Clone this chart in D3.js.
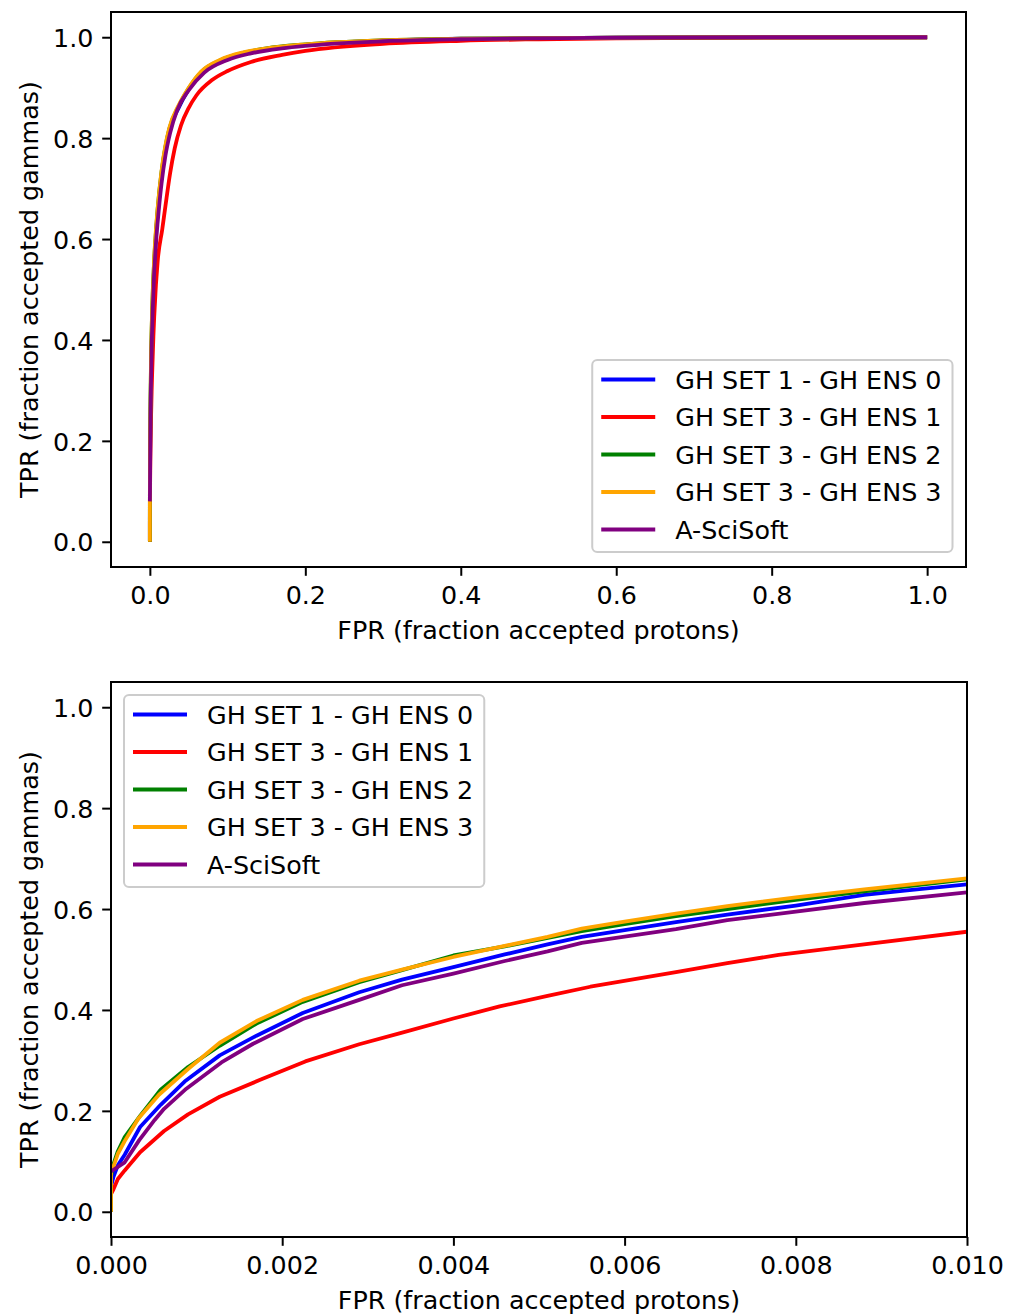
<!DOCTYPE html>
<html>
<head>
<meta charset="utf-8">
<script src="https://cdn.jsdelivr.net/npm/d3@7"></script>
<style>
  html, body { margin: 0; padding: 0; background: #fff; }
  svg { display: block; }
  text { font-family: "DejaVu Sans", sans-serif; }
</style>
</head>
<body>
<svg id="chart" width="1016" height="1314"></svg>
<script>
// ---- Data (FPR, TPR) ----
const seriesNames = ["GH SET 1 - GH ENS 0", "GH SET 3 - GH ENS 1", "GH SET 3 - GH ENS 2", "GH SET 3 - GH ENS 3", "A-SciSoft"];
const seriesColors = ["#0000ff", "#ff0000", "#008000", "#ffa500", "#800080"];

const ens0 = [[0,0],[0,0.05],[0.00003,0.07],[0.00008,0.092],[0.00016,0.113],[0.00034,0.168],[0.00058,0.212],[0.00086,0.258],[0.00127,0.31],[0.0017,0.349],[0.00224,0.394],[0.0029,0.435],[0.0034,0.46],[0.004,0.485],[0.0046,0.51],[0.0051,0.53],[0.0055,0.545],[0.006,0.558],[0.0066,0.574],[0.0072,0.589],[0.008,0.607],[0.0088,0.628],[0.0093,0.637],[0.01,0.649],
  [0.015,0.725],[0.02,0.775],[0.025,0.815],[0.037,0.86],[0.05,0.897],[0.066,0.93],[0.09,0.953],[0.12,0.968],[0.15,0.977],[0.2,0.985],[0.3,0.993],[0.4,0.997],[0.6,0.999],[0.8,1.0],[1.0,1.0]];

const ens1 = [[0,0],[0,0.035],[0.00003,0.045],[0.00008,0.065],[0.00016,0.082],[0.00034,0.118],[0.00062,0.16],[0.0009,0.193],[0.00127,0.228],[0.00175,0.262],[0.00227,0.298],[0.0029,0.332],[0.00338,0.354],[0.004,0.383],[0.00454,0.407],[0.0051,0.428],[0.0056,0.446],[0.0066,0.475],[0.0072,0.493],[0.0078,0.509],[0.00875,0.529],[0.01,0.555],
  [0.016,0.62],[0.02,0.665],[0.026,0.73],[0.032,0.78],[0.04,0.825],[0.05,0.86],[0.06,0.885],[0.08,0.915],[0.1,0.933],[0.13,0.951],[0.17,0.965],[0.2,0.973],[0.3,0.987],[0.4,0.993],[0.5,0.996],[0.6,0.998],[0.8,0.9995],[1.0,1.0]];

const ens2 = [[0,0],[0,0.07],[0.00003,0.095],[0.00008,0.12],[0.00016,0.148],[0.00034,0.19],[0.00058,0.242],[0.0009,0.287],[0.00127,0.329],[0.0017,0.373],[0.00224,0.416],[0.0029,0.455],[0.0034,0.479],[0.004,0.508],[0.0046,0.526],[0.0055,0.556],[0.006,0.57],[0.0066,0.586],[0.0072,0.6],[0.008,0.618],[0.0088,0.635],[0.01,0.659],
  [0.015,0.733],[0.02,0.783],[0.025,0.818],[0.037,0.863],[0.05,0.899],[0.066,0.931],[0.09,0.954],[0.12,0.969],[0.15,0.978],[0.2,0.986],[0.3,0.994],[0.4,0.997],[0.6,0.999],[0.8,1.0],[1.0,1.0]];

const ens3 = [[0,0],[0,0.08],[0.00003,0.09],[0.00008,0.115],[0.00016,0.14],[0.00032,0.185],[0.00056,0.232],[0.0009,0.283],[0.00127,0.335],[0.0017,0.378],[0.00224,0.42],[0.0029,0.458],[0.0034,0.48],[0.004,0.505],[0.0046,0.527],[0.0051,0.545],[0.0055,0.561],[0.006,0.575],[0.0066,0.591],[0.0072,0.606],[0.008,0.623],[0.0088,0.639],[0.01,0.661],
  [0.015,0.735],[0.02,0.785],[0.025,0.82],[0.037,0.865],[0.05,0.9],[0.066,0.932],[0.09,0.955],[0.12,0.97],[0.15,0.978],[0.2,0.986],[0.3,0.994],[0.4,0.997],[0.6,0.999],[0.8,1.0],[1.0,1.0]];

const sciSoft = [[0,0.08],[0.00016,0.098],[0.00033,0.142],[0.00051,0.182],[0.00062,0.204],[0.00088,0.244],[0.00129,0.296],[0.00166,0.333],[0.00224,0.382],[0.0029,0.42],[0.0034,0.449],[0.004,0.472],[0.0046,0.497],[0.0051,0.516],[0.0055,0.533],[0.0066,0.56],[0.0072,0.578],[0.008,0.595],[0.0088,0.612],[0.01,0.633],
  [0.015,0.71],[0.02,0.765],[0.026,0.81],[0.035,0.855],[0.05,0.895],[0.07,0.93],[0.1,0.955],[0.13,0.968],[0.17,0.978],[0.2,0.983],[0.3,0.992],[0.4,0.996],[0.6,0.999],[0.8,1.0],[1.0,1.0]];

const allSeries = [ens0, ens1, ens2, ens3, sciSoft];

const yTicks = [0.0, 0.2, 0.4, 0.6, 0.8, 1.0];
const xTicksTop = [0.0, 0.2, 0.4, 0.6, 0.8, 1.0];
const xTicksBottom = [0.000, 0.002, 0.004, 0.006, 0.008, 0.010];
const xLabel = "FPR (fraction accepted protons)";
const yLabel = "TPR (fraction accepted gammas)";

// ---- Drawing ----
const svg = d3.select("#chart");
const FS = 25.4;        // font size px
const LW = 3.8;         // line width
const SPINE = 2;
const TICK = 8.8, PAD = 8.8;

function panel(cfg, idx) {
  const {left, right, top, bottom, xDomain, xTicks, xFmt, legendPos, curve} = cfg;
  const x = d3.scaleLinear().domain(xDomain).range([left, right]);
  const y = d3.scaleLinear().domain([-0.05, 1.05]).range([bottom, top]);
  const g = svg.append("g");

  const clipId = "clip" + idx;
  svg.append("clipPath").attr("id", clipId)
    .append("rect").attr("x", left).attr("y", top).attr("width", right - left).attr("height", bottom - top);

  const line = d3.line().curve(curve).x(d => x(d[0])).y(d => y(d[1]));
  const lines = g.append("g").attr("clip-path", `url(#${clipId})`);
  allSeries.forEach((s, i) => {
    lines.append("path").attr("d", line(s)).attr("fill", "none")
      .attr("stroke", seriesColors[i]).attr("stroke-width", LW)
      .attr("stroke-linejoin", "round").attr("stroke-linecap", "butt");
  });

  // axes
  const xAxis = d3.axisBottom(x).tickValues(xTicks).tickFormat(d3.format(xFmt)).tickSize(TICK).tickPadding(PAD);
  const yAxis = d3.axisLeft(y).tickValues(yTicks).tickFormat(d3.format(".1f")).tickSize(TICK).tickPadding(PAD);
  const gx = g.append("g").attr("transform", `translate(0,${bottom})`).call(xAxis);
  const gy = g.append("g").attr("transform", `translate(${left},0)`).call(yAxis);
  [gx, gy].forEach(a => {
    a.select(".domain").remove();
    a.selectAll(".tick line").attr("stroke", "#000").attr("stroke-width", SPINE);
    a.selectAll(".tick text").attr("font-size", FS).attr("fill", "#000")
      .attr("font-family", "DejaVu Sans, sans-serif");
  });
  gx.selectAll(".tick text").attr("dy", null).attr("y", TICK + PAD).attr("dominant-baseline", "hanging");
  gy.selectAll(".tick text").attr("dy", "0.36em");

  // frame
  g.append("rect").attr("x", left).attr("y", top).attr("width", right - left).attr("height", bottom - top)
    .attr("fill", "none").attr("stroke", "#000").attr("stroke-width", SPINE);

  // labels
  g.append("text").attr("x", (left + right) / 2).attr("y", bottom + 72)
    .attr("text-anchor", "middle").attr("font-size", FS).text(xLabel);
  g.append("text").attr("transform", `translate(38,${(top + bottom) / 2}) rotate(-90)`)
    .attr("text-anchor", "middle").attr("font-size", FS).text(yLabel);

  // legend
  const leg = g.append("g");
  const rowH = 37.5;
  const texts = [];
  seriesNames.forEach((n, i) => {
    const t = leg.append("text").attr("font-size", FS).attr("dy", "0.36em").text(n);
    texts.push(t);
  });
  const maxW = d3.max(texts, t => t.node().getComputedTextLength());
  const boxW = 83 + maxW + 11;
  const boxH = 192;
  let bx, by;
  if (legendPos === "lower right") { bx = right - 13.5 - boxW; by = bottom - 15 - boxH; }
  else { bx = left + 13; by = top + 13; }
  leg.insert("rect", ":first-child").attr("x", bx).attr("y", by).attr("width", boxW).attr("height", boxH)
    .attr("rx", 5).attr("ry", 5).attr("fill", "#fff").attr("fill-opacity", 0.8)
    .attr("stroke", "#cccccc").attr("stroke-width", 2);
  seriesNames.forEach((n, i) => {
    const ry = by + 19.5 + i * rowH;
    leg.append("line").attr("x1", bx + 9).attr("x2", bx + 63).attr("y1", ry).attr("y2", ry)
      .attr("stroke", seriesColors[i]).attr("stroke-width", LW);
    texts[i].attr("x", bx + 83).attr("y", ry);
  });
}

panel({left: 111, right: 966, top: 12, bottom: 567, xDomain: [-0.05, 1.05], xTicks: xTicksTop, xFmt: ".1f", legendPos: "lower right", curve: d3.curveMonotoneX}, 0);
panel({left: 111, right: 967, top: 682, bottom: 1237, xDomain: [0, 0.01], xTicks: xTicksBottom, xFmt: ".3f", legendPos: "upper left", curve: d3.curveLinear}, 1);
</script>
</body>
</html>
